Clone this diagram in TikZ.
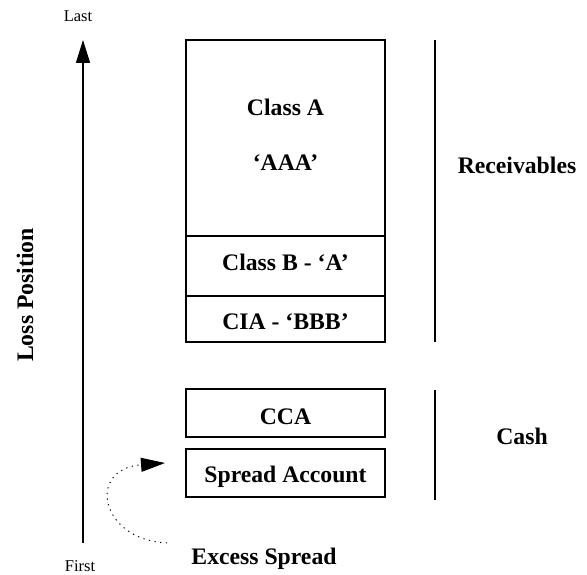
\documentclass[tikz,border=0pt]{standalone}
\usepackage{fontspec}
\setmainfont{Liberation Serif}
\usetikzlibrary{arrows.meta}
\begin{document}
\begin{tikzpicture}[x=1pt,y=1pt,
  box/.style={draw, line width=1.3pt, minimum width=199pt, inner sep=0pt},
  lbl/.style={font=\fontsize{23.7}{28}\selectfont\bfseries, anchor=base, inner sep=0pt},
  small/.style={font=\fontsize{16.5}{20}\selectfont, anchor=base, inner sep=0pt},
  bar/.style={line width=1.5pt}]
\useasboundingbox (0,0) rectangle (587,575);
% boxes
\node[box, minimum height=196pt] (clA) at (285.5,437) {};
\node[box, minimum height=60pt] (clB) at (285.5,309) {};
\node[box, minimum height=46pt] (cia) at (285.5,256) {};
\node[box, minimum height=48pt] (cca) at (285.5,162) {};
\node[box, minimum height=48pt] (spr) at (285.5,102) {};
% texts
\node[lbl] (tA) at (285.5,459) {Class A};
\node[lbl] (tAAA) at (285.5,404) {‘AAA’};
\node[lbl] (tB) at (285.5,304) {Class B - ‘A’};
\node[lbl] (tC) at (285.5,245) {CIA - ‘BBB’};
\node[lbl] (tCCA) at (285.5,150) {CCA};
\node[lbl] (tS) at (285.5,92) {Spread Account};
\node[lbl] (rec) at (517,401) {Receivables};
\node[lbl] (cash) at (522,130) {Cash};
\node[lbl] (exc) at (264,10) {Excess Spread};
\node[small] (last) at (78,553) {Last};
\node[small] (first) at (80,3.5) {First};
\node[lbl, rotate=90] (loss) at (33,280) {Loss Position};
% main arrow
\coordinate (abot) at (83,32);
\coordinate (atop) at (83,535);
\draw[line width=1.5pt, -{Triangle[length=23pt,width=14pt]}] (abot) -- (atop);
% right bars
\coordinate (r1) at (435,535);
\coordinate (r2) at (435,233);
\coordinate (c1) at (435,185);
\coordinate (c2) at (435,75);
\draw[bar] (r1) -- (r2);
\draw[bar] (c1) -- (c2);
% dotted arrow
\coordinate (es) at (167,32);
\coordinate (sp) at (165,112);
\draw[line width=1pt, dash pattern=on 1.2pt off 4.5pt,
  -{Triangle[length=24pt,width=14pt]}]
  (es) .. controls (100,35) and (86,106) .. (sp);
\end{tikzpicture}
\end{document}
